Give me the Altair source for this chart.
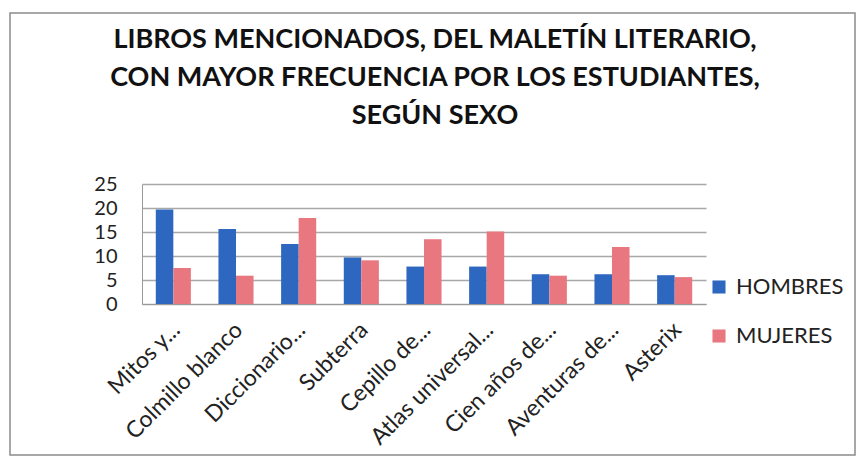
import altair as alt
import pandas as pd

libros = ["Mitos y...", "Colmillo blanco", "Diccionario...", "Subterra", "Cepillo de...",
          "Atlas universal...", "Cien años de...", "Aventuras de...", "Asterix"]
hombres = [19.7, 15.6, 12.5, 9.7, 7.8, 7.8, 6.2, 6.2, 6.0]
mujeres = [7.5, 5.9, 17.9, 9.1, 13.5, 15.1, 5.9, 11.9, 5.6]
series = ["HOMBRES", "MUJERES"]
colores = ["#2E67C0", "#E9777F"]
y_ticks = [0, 5, 10, 15, 20, 25]
titulo = ["LIBROS MENCIONADOS, DEL MALETÍN LITERARIO,",
          "CON MAYOR FRECUENCIA POR LOS ESTUDIANTES,",
          "SEGÚN SEXO"]

rows = []
for i, lib in enumerate(libros):
    rows.append({"libro": lib, "sexo": series[0], "valor": hombres[i]})
    rows.append({"libro": lib, "sexo": series[1], "valor": mujeres[i]})
df = pd.DataFrame(rows)

FONT = "Lato"

bars = alt.Chart(df).mark_bar().encode(
    x=alt.X("libro:N", sort=libros, title=None,
            scale=alt.Scale(paddingInner=0.44, paddingOuter=0.22),
            axis=alt.Axis(labelAngle=-45, labelAlign="right", labelBaseline="middle",
                          labelFontSize=23, labelFont=FONT, labelColor="#222222",
                          labelPadding=22, labelOffset=3, ticks=False,
                          domainColor="#9A9A9A", labelLimit=300)),
    xOffset=alt.XOffset("sexo:N", sort=series,
                        scale=alt.Scale(paddingInner=0, paddingOuter=0)),
    y=alt.Y("valor:Q", title=None,
            scale=alt.Scale(domain=[0, 25], nice=False),
            axis=alt.Axis(values=y_ticks, labelFontSize=20, labelFont=FONT,
                          labelColor="#222222", labelPadding=25, ticks=False,
                          domain=True, domainColor="#9A9A9A",
                          gridColor="#A8A8A8", gridWidth=1.3)),
    color=alt.Color("sexo:N", sort=series,
                    scale=alt.Scale(domain=series, range=colores),
                    legend=alt.Legend(title=None, orient="none", legendX=566, legendY=92,
                                      symbolType="square", symbolSize=170,
                                      symbolStrokeWidth=0, labelFontSize=22,
                                      labelFont=FONT, labelColor="#222222",
                                      rowPadding=27, labelOffset=6)),
)

frame = alt.Chart(alt.Data(values=[{}])).mark_rect(
    fillOpacity=0, stroke="#8C8C8C", strokeWidth=1.5
).encode(
    x=alt.value(-132), x2=alt.value(713), y=alt.value(-171), y2=alt.value(271)
)

title = alt.Chart(alt.Data(values=[{}])).mark_text(
    font=FONT, fontSize=27, fontWeight="bold", color="#111111",
    align="center", baseline="alphabetic", lineHeight=38
).encode(
    text=alt.value(titulo), x=alt.value(293), y=alt.value(-136)
)

chart = alt.layer(frame, title, bars).properties(
    width=564, height=120,
    padding={"left": 134, "top": 176, "right": 150, "bottom": 155},
    autosize=alt.AutoSizeParams(type="none"),
    background="#FFFFFF",
).configure_view(stroke=None)

chart.save("out.html", embed_options={"renderer": "svg", "actions": False})
